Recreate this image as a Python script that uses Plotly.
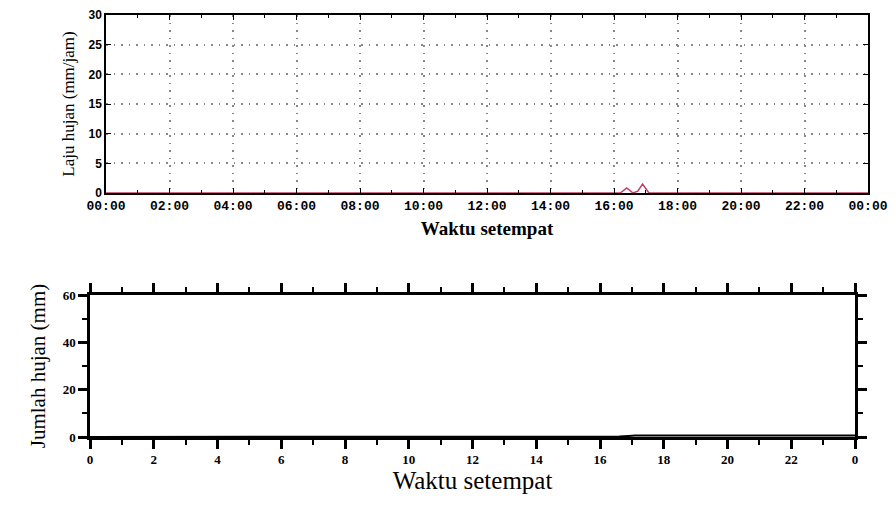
import plotly.graph_objects as go

# ---- data ----
rate_hours = [0, 16.2, 16.4, 16.6, 16.75, 16.9, 17.1, 24]
rate_values = [0, 0, 0.85, 0, 0.3, 1.5, 0, 0]

cum_hours = [0, 16.2, 16.4, 16.6, 16.9, 17.1, 24]
cum_values = [0, 0, 0.1, 0.2, 0.45, 0.6, 0.6]

top_tick_vals = [0, 2, 4, 6, 8, 10, 12, 14, 16, 18, 20, 22, 24]
top_tick_text = ["00:00", "02:00", "04:00", "06:00", "08:00", "10:00", "12:00",
                 "14:00", "16:00", "18:00", "20:00", "22:00", "00:00"]
bot_tick_text = ["0", "2", "4", "6", "8", "10", "12", "14", "16", "18", "20", "22", "0"]
top_y_ticks = [0, 5, 10, 15, 20, 25, 30]
bot_y_ticks = [0, 20, 40, 60]

fig = go.Figure()
fig.add_trace(go.Scatter(x=rate_hours, y=rate_values, mode="lines",
                         line=dict(color="#c23b6a", width=1.5),
                         xaxis="x", yaxis="y", showlegend=False))
fig.add_trace(go.Scatter(x=cum_hours, y=cum_values, mode="lines",
                         line=dict(color="black", width=2),
                         xaxis="x2", yaxis="y2", showlegend=False))

serif = "Liberation Serif"
W, H, OFF = 896, 506, 8


def xd(a, b):
    return [(a - OFF) / W, (b - OFF) / W]


def yd(top, bottom):
    return [1 - (bottom - OFF) / H, 1 - (top - OFF) / H]


fig.update_layout(
    width=W, height=H,
    margin=dict(l=0, r=0, t=0, b=0),
    paper_bgcolor="white", plot_bgcolor="white",
    xaxis=dict(
        domain=xd(106, 868), anchor="y", range=[0, 24], automargin=False,
        tickvals=top_tick_vals, ticktext=top_tick_text,
        tickfont=dict(family="Liberation Mono", size=13, color="black", weight="bold"),
        ticks="inside", ticklen=5, tickcolor="black", mirror="ticks",
        minor=dict(dtick=1, ticks="inside", ticklen=3, tickcolor="black", showgrid=False),
        showline=True, linecolor="black", linewidth=1.5,
        showgrid=True, gridcolor="#888888", griddash="1.5px,6px", gridwidth=1.5,
        zeroline=False, layer="above traces",
        title=dict(text="Waktu setempat", standoff=8,
                   font=dict(family=serif, size=19, color="black", weight="bold")),
    ),
    yaxis=dict(
        domain=yd(15, 193), anchor="x", range=[0, 30], automargin=False,
        tickvals=top_y_ticks,
        tickfont=dict(family="Liberation Sans", size=12, color="black", weight="bold"),
        ticks="inside", ticklen=5, tickcolor="black", mirror="ticks",
        showline=True, linecolor="black", linewidth=1.5,
        showgrid=True, gridcolor="#888888", griddash="1.5px,6px", gridwidth=1.5,
        zeroline=False, layer="above traces",
        title=dict(text="Laju hujan (mm/jam)", standoff=10,
                   font=dict(family=serif, size=17, color="black")),
    ),
    xaxis2=dict(
        domain=xd(90, 855), anchor="y2", range=[0, 24], automargin=False,
        tickvals=top_tick_vals, ticktext=bot_tick_text,
        tickfont=dict(family=serif, size=13, color="black", weight="bold"),
        ticks="outside", ticklen=9, tickwidth=2.5, tickcolor="black", mirror="ticks",
        minor=dict(dtick=1, ticks="outside", ticklen=5, tickwidth=2, tickcolor="black", showgrid=False),
        showline=True, linecolor="black", linewidth=2.5,
        showgrid=False, zeroline=False, layer="above traces",
        title=dict(text="Waktu setempat", standoff=6,
                   font=dict(family=serif, size=25, color="black")),
    ),
    yaxis2=dict(
        domain=yd(295, 437), anchor="x2", range=[0, 60], automargin=False,
        tickvals=bot_y_ticks,
        tickfont=dict(family=serif, size=13, color="black", weight="bold"),
        ticks="outside", ticklen=9, tickwidth=2.5, tickcolor="black", mirror="ticks",
        minor=dict(dtick=10, ticks="outside", ticklen=5, tickwidth=2, tickcolor="black", showgrid=False),
        showline=True, linecolor="black", linewidth=2.5,
        showgrid=False, zeroline=False, layer="above traces",
        title=dict(text="Jumlah hujan (mm)", standoff=12,
                   font=dict(family=serif, size=21, color="black")),
    ),
)

fig.write_html("out.html")
